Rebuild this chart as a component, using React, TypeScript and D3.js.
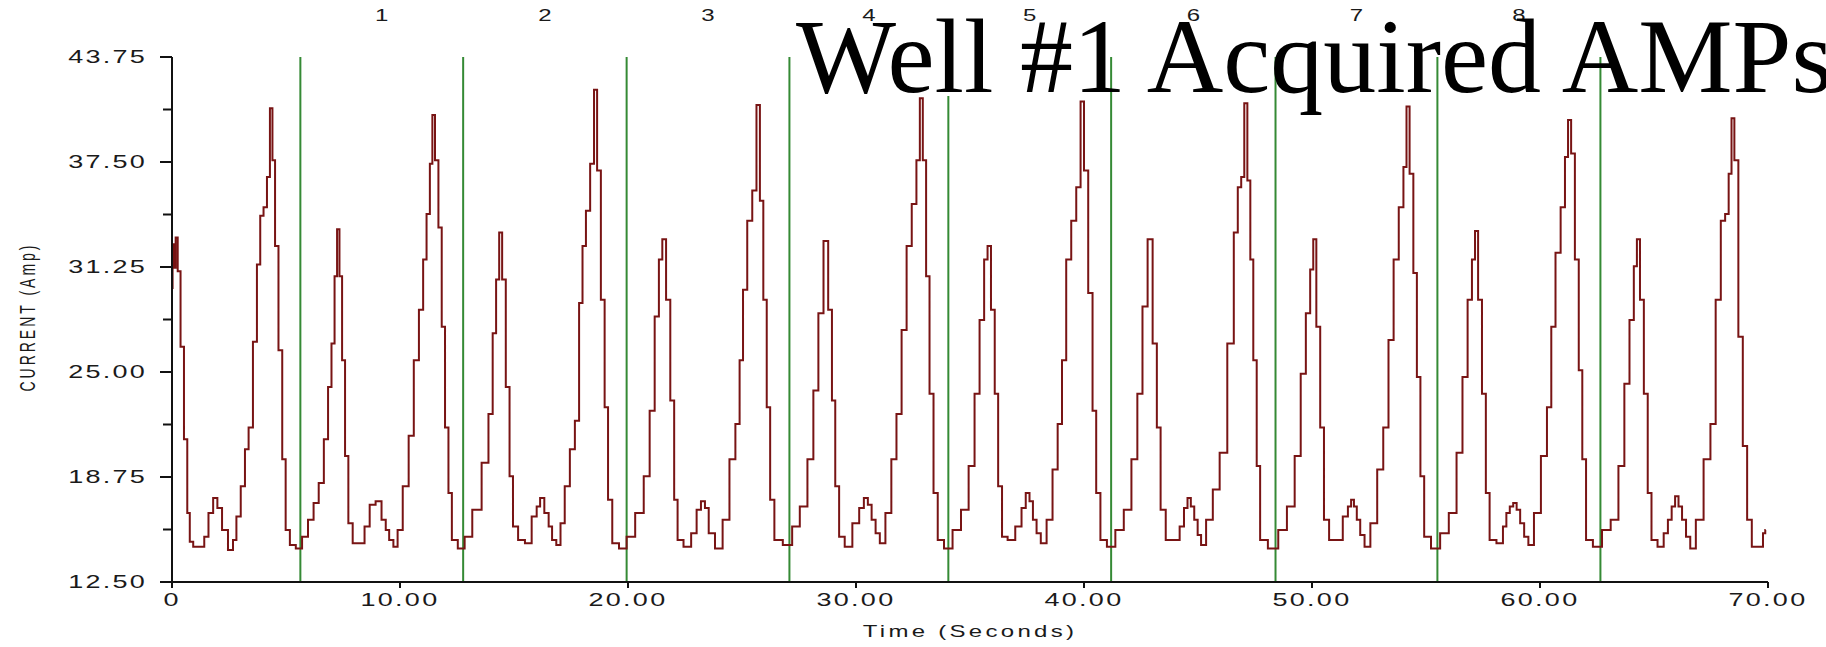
import React from "react";
import * as d3 from "d3";

// ---------- DATA ----------
const yTickValues = [12.5, 18.75, 25, 31.25, 37.5, 43.75];
const yTickLabels = ["12.50", "18.75", "25.00", "31.25", "37.50", "43.75"];
const yMinorTicks = [15.625, 21.875, 28.125, 34.375, 40.625];
const xTickValues = [0, 10, 20, 30, 40, 50, 60, 70];
const xTickLabels = ["0", "10.00", "20.00", "30.00", "40.00", "50.00", "60.00", "70.00"];
const markerTimes = [5.63, 12.77, 19.94, 27.08, 34.05, 41.19, 48.4, 55.5, 62.65];
const cycleLabels = ["1", "2", "3", "4", "5", "6", "7", "8"];
const titleText = "Well #1 Acquired AMPs";
const xTitle = "Time (Seconds)";
const yTitle = "CURRENT (Amp)";

// [time (s), current (Amp)]
const trace: [number, number][] = [
  [0, 30.0], [0.05, 32.6], [0.12, 31.2], [0.2, 33.0], [0.3, 31.0], [0.45, 26.5], [0.6, 21.0], [0.74, 16.6], [0.82, 14.9],
  [1.04, 14.6], [1.34, 14.6], [1.49, 15.2], [1.71, 16.6], [1.9, 17.5], [2.08, 16.9], [2.31, 15.6], [2.6, 14.4], [2.75, 15.0],
  [2.9, 16.4], [3.13, 18.2], [3.27, 20.4], [3.45, 21.7], [3.65, 26.8], [3.8, 31.4], [3.94, 34.3], [4.09, 34.8], [4.24, 36.6],
  [4.35, 40.7], [4.46, 37.6], [4.58, 32.5], [4.76, 26.3], [4.91, 19.8], [5.06, 15.6], [5.28, 14.7], [5.58, 14.5],
  [5.83, 15.2], [6.1, 16.2], [6.32, 17.2], [6.55, 18.4], [6.77, 21.0], [6.92, 24.1], [7.07, 26.7], [7.19, 30.7], [7.29, 33.5],
  [7.4, 30.7], [7.52, 25.7], [7.66, 20.0], [7.81, 16.0], [8.04, 14.8], [8.33, 14.8], [8.56, 15.8], [8.78, 17.1], [9.08, 17.3],
  [9.3, 16.2], [9.45, 15.6], [9.6, 15.0], [9.82, 14.6], [9.97, 15.6], [10.27, 18.2], [10.49, 21.2], [10.72, 25.7], [10.94, 28.7],
  [11.09, 31.7], [11.24, 34.4], [11.38, 37.4], [11.46, 40.3], [11.61, 37.6], [11.76, 33.6], [11.9, 27.7], [12.05, 21.7],
  [12.2, 17.8], [12.35, 15.0], [12.72, 14.5],
  [12.95, 15.2], [13.39, 16.8], [13.77, 19.6], [13.99, 22.5], [14.14, 27.3], [14.29, 30.5], [14.41, 33.3], [14.55, 30.5],
  [14.73, 24.1], [14.88, 18.8], [15.03, 15.8], [15.33, 15.0], [15.63, 14.8], [15.92, 16.4], [16.07, 17.0], [16.22, 17.5],
  [16.44, 16.6], [16.6, 15.8], [16.74, 15.0], [16.97, 14.7], [17.11, 16.0], [17.34, 18.2], [17.56, 20.4], [17.78, 22.1],
  [17.93, 29.1], [18.08, 32.5], [18.23, 34.6], [18.45, 37.4], [18.57, 41.8], [18.72, 37.0], [18.9, 29.3], [19.05, 22.9],
  [19.2, 17.4], [19.42, 14.8], [19.79, 14.5],
  [20.09, 15.2], [20.54, 16.6], [20.84, 18.8], [21.06, 22.7], [21.28, 28.3], [21.43, 31.7], [21.58, 32.9], [21.76, 29.3],
  [21.95, 23.3], [22.1, 17.4], [22.25, 15.0], [22.62, 14.6], [22.92, 15.4], [23.1, 16.8], [23.3, 17.3], [23.45, 16.9],
  [23.63, 15.4], [24.0, 14.5], [24.3, 16.2], [24.6, 19.8], [24.82, 21.9], [24.97, 25.7], [25.12, 29.9], [25.34, 34.0],
  [25.56, 35.8], [25.71, 40.9], [25.86, 35.2], [26.01, 29.3], [26.16, 22.9], [26.31, 17.4], [26.53, 15.0], [27.05, 14.7],
  [27.35, 15.8], [27.72, 17.0], [28.02, 19.8], [28.24, 23.9], [28.46, 28.5], [28.69, 32.8], [28.87, 28.7], [29.02, 23.3],
  [29.16, 18.2], [29.36, 15.2], [29.65, 14.6], [30.03, 16.0], [30.25, 16.9], [30.44, 17.5], [30.6, 17.1], [30.77, 16.2],
  [30.95, 15.4], [31.14, 14.8], [31.44, 16.6], [31.66, 19.8], [31.89, 22.5], [32.11, 27.5], [32.33, 32.5], [32.56, 35.0],
  [32.74, 37.6], [32.86, 41.3], [33.0, 37.6], [33.15, 30.7], [33.3, 23.7], [33.5, 17.8], [33.67, 15.0], [34.05, 14.5],
  [34.42, 15.6], [34.79, 16.8], [35.09, 19.4], [35.31, 23.7], [35.53, 28.1], [35.71, 31.7], [35.83, 32.5], [36.01, 28.7],
  [36.16, 23.7], [36.31, 18.2], [36.5, 15.2], [36.8, 15.0], [37.17, 15.8], [37.35, 16.9], [37.54, 17.8], [37.68, 17.3],
  [37.84, 16.2], [38.0, 15.4], [38.21, 14.8], [38.51, 16.2], [38.73, 19.2], [38.96, 21.9], [39.11, 25.7], [39.33, 31.7],
  [39.55, 34.0], [39.77, 36.0], [39.93, 41.1], [40.07, 37.0], [40.3, 29.7], [40.45, 22.7], [40.62, 17.8], [40.82, 15.0],
  [41.19, 14.6],
  [41.56, 15.6], [41.93, 16.8], [42.23, 19.8], [42.45, 23.7], [42.68, 28.9], [42.9, 32.9], [43.12, 26.7], [43.27, 21.7],
  [43.45, 16.8], [43.72, 15.0], [44.09, 15.0], [44.3, 15.8], [44.47, 16.9], [44.61, 17.5], [44.76, 17.0], [44.91, 16.2],
  [45.06, 15.3], [45.21, 14.7], [45.5, 16.2], [45.8, 18.0], [46.1, 20.2], [46.47, 26.7], [46.67, 33.3], [46.82, 36.0],
  [46.97, 36.6], [47.09, 41.0], [47.24, 36.4], [47.35, 31.7], [47.5, 25.7], [47.65, 19.4], [47.8, 15.0], [48.33, 14.5],
  [48.71, 15.6], [49.09, 17.0], [49.39, 20.0], [49.62, 24.9], [49.84, 28.5], [50.0, 31.1], [50.11, 32.9], [50.27, 27.7],
  [50.45, 21.7], [50.6, 16.2], [50.9, 15.0], [51.2, 15.0], [51.5, 16.4], [51.65, 17.0], [51.78, 17.4], [51.9, 17.0],
  [52.03, 16.2], [52.2, 15.3], [52.41, 14.6], [52.71, 16.0], [53.01, 19.2], [53.24, 21.7], [53.47, 26.9], [53.69, 31.7],
  [53.92, 34.8], [54.1, 37.2], [54.19, 40.8], [54.37, 36.8], [54.52, 30.9], [54.68, 24.7], [54.83, 18.8], [55.01, 15.2],
  [55.43, 14.5],
  [55.81, 15.4], [56.19, 16.6], [56.49, 20.2], [56.71, 24.7], [56.94, 29.3], [57.09, 31.7], [57.21, 33.4], [57.36, 29.3],
  [57.55, 23.7], [57.7, 17.8], [57.88, 15.0], [58.3, 14.8], [58.45, 15.8], [58.6, 16.6], [58.75, 17.0], [58.9, 17.2],
  [59.05, 16.8], [59.21, 16.0], [59.4, 15.2], [59.58, 14.7], [59.89, 16.6], [60.19, 20.0], [60.42, 22.9], [60.57, 27.7],
  [60.79, 32.1], [61.02, 34.8], [61.17, 37.8], [61.29, 40.0], [61.44, 38.0], [61.62, 31.7], [61.78, 25.1], [61.93, 19.8],
  [62.11, 15.0], [62.53, 14.6],
  [62.91, 15.6], [63.29, 16.2], [63.59, 19.4], [63.81, 24.3], [64.04, 28.1], [64.19, 31.3], [64.31, 32.9], [64.46, 29.3],
  [64.65, 23.7], [64.8, 17.8], [64.98, 15.0], [65.33, 14.6], [65.52, 15.4], [65.7, 16.2], [65.85, 17.0], [66.0, 17.6],
  [66.15, 17.0], [66.31, 16.2], [66.5, 15.2], [66.68, 14.5], [66.99, 16.2], [67.36, 19.8], [67.59, 21.9], [67.82, 29.3],
  [68.04, 34.0], [68.2, 34.4], [68.35, 36.8], [68.45, 40.1], [68.6, 37.6], [68.8, 27.1], [68.99, 20.6], [69.18, 16.2],
  [69.4, 14.6], [69.7, 14.6], [69.86, 15.4], [69.9, 15.6],
];

// ---------- LAYOUT ----------
const W = 1826;
const H = 647;
const plot = { left: 172, right: 1768, top: 57, bottom: 582 };
const SANS = "'Liberation Sans', Arial, sans-serif";
const SERIF = "'Liberation Serif', 'Times New Roman', serif";
const SX = 1.5; // horizontal stretch of the bitmap-like labels

function SText(props: {
  x: number; y: number; anchor?: string; size: number; ls?: number; children: React.ReactNode;
}) {
  const { x, y, anchor = "middle", size, ls = 0, children } = props;
  return (
    <text
      transform={`translate(${x},${y}) scale(${SX},1)`}
      textAnchor={anchor as any}
      dominantBaseline="central"
      fontFamily={SANS}
      fontSize={size}
      letterSpacing={ls}
      fill="#1a1a1a"
    >
      {children}
    </text>
  );
}

export default function App() {
  const x = d3.scaleLinear().domain([0, 70]).range([plot.left, plot.right]);
  const y = d3.scaleLinear().domain([12.5, 43.75]).range([plot.bottom, plot.top]);

  const line = d3
    .line<[number, number]>()
    .x((d) => x(d[0]))
    .y((d) => y(d[1]))
    .curve(d3.curveStep);

  const path = line(trace) || "";

  return (
    <svg
      width={W}
      height={H}
      viewBox={`0 0 ${W} ${H}`}
      style={{ position: "absolute", left: 0, top: 0, background: "#fff" }}
    >
      <rect x={0} y={0} width={W} height={H} fill="#fff" />

      {/* cycle markers */}
      {markerTimes.map((t, i) => (
        <line
          key={"m" + i}
          x1={x(t)}
          x2={x(t)}
          y1={y(43.75)}
          y2={y(12.5)}
          stroke="#358a35"
          strokeWidth={2}
        />
      ))}

      {/* trace */}
      <path d={path} fill="none" stroke="#781414" strokeWidth={2} strokeLinejoin="miter" />

      {/* cycle numbers */}
      {cycleLabels.map((lab, i) => (
        <SText key={"c" + i} x={(x(markerTimes[i]) + x(markerTimes[i + 1])) / 2} y={16} size={16}>
          {lab}
        </SText>
      ))}

      {/* y axis */}
      <line x1={plot.left} x2={plot.left} y1={plot.top} y2={plot.bottom} stroke="#111" strokeWidth={2} />
      {yTickValues.map((v, i) => (
        <g key={"yt" + i}>
          <line x1={plot.left - 12} x2={plot.left} y1={y(v)} y2={y(v)} stroke="#111" strokeWidth={2} />
          <SText x={147} y={y(v)} anchor="end" size={18} ls={1.5}>
            {yTickLabels[i]}
          </SText>
        </g>
      ))}
      {yMinorTicks.map((v, i) => (
        <line key={"ym" + i} x1={plot.left - 9} x2={plot.left} y1={y(v)} y2={y(v)} stroke="#111" strokeWidth={2} />
      ))}

      {/* x axis */}
      <line x1={plot.left - 12} x2={plot.right} y1={plot.bottom} y2={plot.bottom} stroke="#111" strokeWidth={2} />
      {xTickValues.map((v, i) => (
        <g key={"xt" + i}>
          <line x1={x(v)} x2={x(v)} y1={plot.bottom} y2={plot.bottom + 6} stroke="#111" strokeWidth={2} />
          <SText x={x(v)} y={600} size={18} ls={1.5}>
            {xTickLabels[i]}
          </SText>
        </g>
      ))}

      {/* axis titles */}
      <SText x={970} y={632} size={16} ls={2.2}>
        {xTitle}
      </SText>
      <text
        transform={`translate(27,317) scale(1.6,1) rotate(-90)`}
        textAnchor="middle"
        dominantBaseline="central"
        fontFamily={SANS}
        fontSize={14}
        letterSpacing={3}
        fill="#1a1a1a"
      >
        {yTitle}
      </text>

      {/* title block */}
      <rect x={800} y={40} width={305} height={56} fill="#fff" />
      <text x={796} y={92} fontFamily={SERIF} fontSize={106} fill="#000">
        {titleText}
      </text>
    </svg>
  );
}
